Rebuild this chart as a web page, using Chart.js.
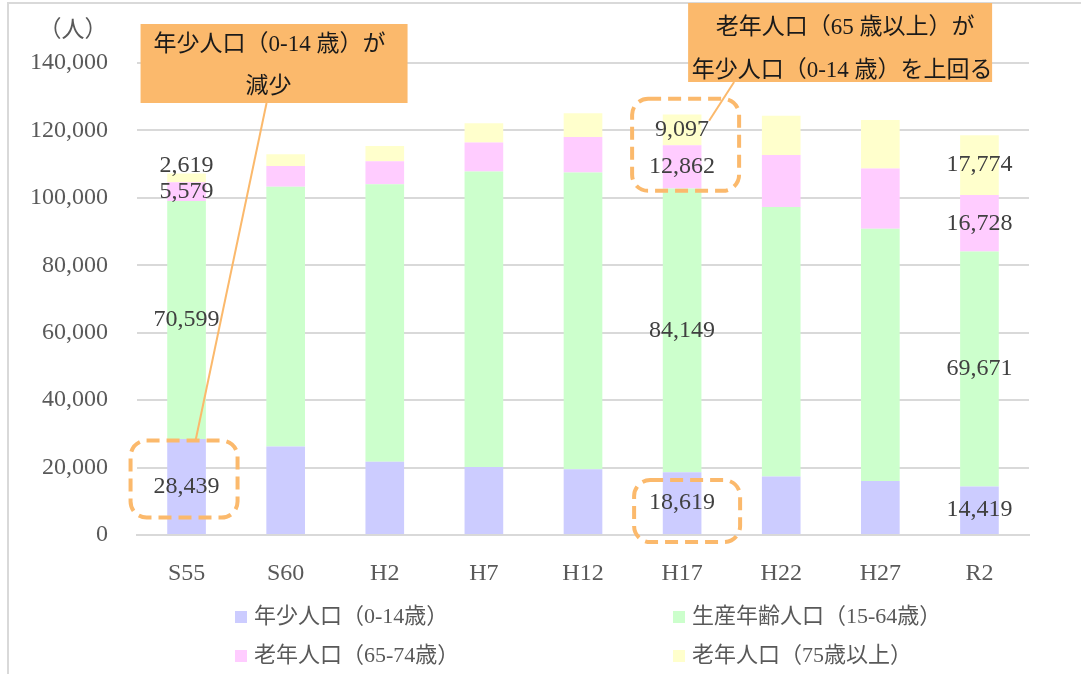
<!DOCTYPE html>
<html>
<head>
<meta charset="utf-8">
<script src="https://cdn.jsdelivr.net/npm/chart.js@4"></script>
<style>
  html, body { margin: 0; padding: 0; background: #fff; }
  #wrap { width: 1081px; height: 674px; position: relative; }
</style>
</head>
<body>
<div id="wrap"><canvas id="popChart" width="1081" height="674"></canvas></div>
<script>
// Categories (years) and the four age groups
const categories = ['S55', 'S60', 'H2', 'H7', 'H12', 'H17', 'H22', 'H27', 'R2'];
const youth = [28439, 26240, 21700, 20200, 19520, 18619, 17330, 16050, 14419];
const working = [70599, 77090, 82320, 87600, 87980, 84149, 79950, 74800, 69671];
const elderly6574 = [5579, 6130, 6840, 8620, 10580, 12862, 15450, 17840, 16728];
const elderly75 = [2619, 3480, 4550, 5730, 7050, 9097, 11590, 14440, 17774];
const seriesNames = ['年少人口（0-14歳）', '生産年齢人口（15-64歳）', '老年人口（65-74歳）', '老年人口（75歳以上）'];
const yMax = 140000;
const yStep = 20000;
// bars that carry value labels
const labeledBars = [0, 5, 8];

const colors = ['#CCCCFF', '#CCFFCC', '#FFCCFF', '#FFFFCC'];
const orange = '#FBB96C';
const serif = '"Liberation Serif", "Noto Sans CJK JP", serif';

function roundRect(ctx, x, y, w, h, r) {
    ctx.beginPath();
    ctx.moveTo(x + r, y);
    ctx.arcTo(x + w, y, x + w, y + h, r);
    ctx.arcTo(x + w, y + h, x, y + h, r);
    ctx.arcTo(x, y + h, x, y, r);
    ctx.arcTo(x, y, x + w, y, r);
    ctx.closePath();
}

// value labels, dashed highlight boxes and callouts
const overlayPlugin = {
    id: 'overlay',
    beforeDraw(chart) {
        const ctx = chart.ctx;
        ctx.save();
        ctx.strokeStyle = '#d9d9d9';
        ctx.lineWidth = 2;
        ctx.beginPath();
        ctx.moveTo(8, 674);
        ctx.lineTo(8, 3);
        ctx.lineTo(1081, 3);
        ctx.stroke();
        ctx.restore();
    },
    afterDatasetsDraw(chart) {
        const ctx = chart.ctx;
        const labelPos = {};
        ctx.save();
        ctx.font = '24px ' + serif;
        ctx.fillStyle = '#404040';
        ctx.textAlign = 'center';
        ctx.textBaseline = 'middle';
        chart.data.datasets.forEach(function(ds, di) {
            const meta = chart.getDatasetMeta(di);
            labeledBars.forEach(function(i) {
                const bar = meta.data[i];
                let ly = (bar.y + bar.base) / 2;
                // the thin top segment of S55 is labelled above its bar
                if (i === 0 && di === 3) ly -= 12;
                labelPos[di + '_' + i] = { x: bar.x, y: ly };
                ctx.fillText(ds.data[i].toLocaleString('en-US'), bar.x, ly);
            });
        });

        // dashed highlight boxes
        ctx.strokeStyle = orange;
        ctx.lineWidth = 4;
        ctx.setLineDash([13, 7]);
        let p = labelPos['0_0'];
        roundRect(ctx, p.x - 56, p.y - 46, 107, 77, 16);
        ctx.stroke();
        const top = labelPos['3_5'], mid = labelPos['2_5'];
        roundRect(ctx, top.x - 50, top.y - 31, 107, mid.y - top.y + 55, 16);
        ctx.stroke();
        p = labelPos['0_5'];
        roundRect(ctx, p.x - 48, p.y - 23, 106, 62, 16);
        ctx.stroke();
        ctx.setLineDash([]);

        // callout 1
        const xs = chart.scales.x;
        const c0 = xs.getPixelForValue(0);
        ctx.lineWidth = 2;
        ctx.beginPath();
        ctx.moveTo(c0 + 80, 103);
        ctx.lineTo(labelPos['0_0'].x + 9, labelPos['0_0'].y - 46);
        ctx.stroke();
        ctx.fillStyle = orange;
        ctx.fillRect(c0 - 46, 24, 267, 79);
        ctx.fillStyle = '#1a1a1a';
        ctx.font = '23px ' + serif;
        ctx.textAlign = 'left';
        ctx.fillText('年少人口（0-14 歳）が', c0 - 33, 45);
        ctx.textAlign = 'center';
        ctx.fillText('減少', c0 + 82, 87);

        // callout 2
        const c5 = xs.getPixelForValue(5);
        ctx.strokeStyle = orange;
        ctx.beginPath();
        ctx.moveTo(c5 + 52, 82);
        ctx.lineTo(top.x + 27, top.y - 9);
        ctx.stroke();
        ctx.fillStyle = orange;
        ctx.fillRect(c5 + 6, 3, 304, 79);
        ctx.fillStyle = '#1a1a1a';
        ctx.fillText('老年人口（65 歳以上）が', c5 + 163, 28);
        ctx.fillText('年少人口（0-14 歳）を上回る', c5 + 160, 71);
        ctx.restore();
    },
    afterDraw(chart) {
        const ctx = chart.ctx;
        ctx.save();
        // unit label
        ctx.fillStyle = '#595959';
        ctx.font = '23px ' + serif;
        ctx.textAlign = 'center';
        ctx.textBaseline = 'middle';
        ctx.fillText('（人）', 73, 31);

        // legend, two columns
        const colX = [235, 673];
        const rowY = [617, 656];
        const order = [0, 1, 2, 3];
        ctx.textAlign = 'left';
        ctx.font = '22px ' + serif;
        order.forEach(function(di, k) {
            const x = colX[k % 2], y = rowY[Math.floor(k / 2)];
            ctx.fillStyle = chart.data.datasets[di].backgroundColor;
            ctx.fillRect(x, y - 6, 12, 12);
            ctx.fillStyle = '#595959';
            ctx.fillText(chart.data.datasets[di].label, x + 19, y);
        });
        ctx.restore();
    }
};

const ctx = document.getElementById('popChart').getContext('2d');
new Chart(ctx, {
    type: 'bar',
    data: {
        labels: categories,
        datasets: [
            { label: seriesNames[0], data: youth, backgroundColor: colors[0] },
            { label: seriesNames[1], data: working, backgroundColor: colors[1] },
            { label: seriesNames[2], data: elderly6574, backgroundColor: colors[2] },
            { label: seriesNames[3], data: elderly75, backgroundColor: colors[3] }
        ]
    },
    options: {
        responsive: false,
        animation: false,
        devicePixelRatio: 1,
        layout: { padding: { left: 8, right: 52, top: 63, bottom: 89 } },
        datasets: { bar: { categoryPercentage: 1, barPercentage: 0.39 } },
        plugins: { legend: { display: false }, tooltip: { enabled: false } },
        scales: {
            x: {
                stacked: true,
                grid: { display: false },
                border: { color: '#d9d9d9', width: 2 },
                ticks: { color: '#595959', font: { family: serif, size: 24 }, padding: 16 },
                afterFit(s) { s.height = 50; }
            },
            y: {
                stacked: true,
                min: 0,
                max: yMax,
                grid: { color: '#d9d9d9', lineWidth: 2, drawTicks: false },
                border: { display: false },
                ticks: {
                    stepSize: yStep,
                    color: '#595959',
                    font: { family: serif, size: 24 },
                    padding: 29,
                    callback: function(v) { return v.toLocaleString('en-US'); }
                },
                afterFit(s) { s.width = 129; }
            }
        }
    },
    plugins: [overlayPlugin]
});
</script>
</body>
</html>
